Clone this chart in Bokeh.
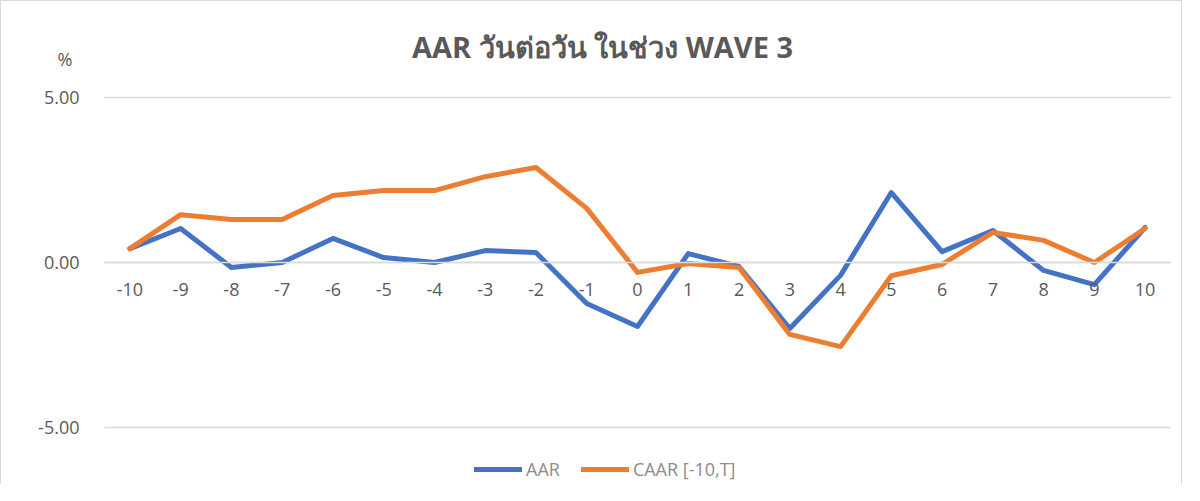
from bokeh.plotting import figure
from bokeh.models import (Range1d, LinearAxis, FixedTicker, NumeralTickFormatter,
                          PrintfTickFormatter, Legend, Label)
from bokeh.embed import file_html
from bokeh.resources import INLINE

# ---- data ----
days = [-10, -9, -8, -7, -6, -5, -4, -3, -2, -1, 0, 1, 2, 3, 4, 5, 6, 7, 8, 9, 10]
aar = [0.42, 1.03, -0.15, 0.00, 0.73, 0.15, 0.00, 0.36, 0.30, -1.24, -1.94,
       0.27, -0.12, -2.00, -0.39, 2.12, 0.33, 0.97, -0.24, -0.67, 1.06]
caar = [0.42, 1.45, 1.30, 1.30, 2.03, 2.18, 2.18, 2.60, 2.88, 1.64, -0.30,
        -0.03, -0.15, -2.18, -2.55, -0.40, -0.06, 0.91, 0.67, 0.00, 1.03]
y_ticks = [-5, 0, 5]
title_text = "AAR วันต่อวัน ในช่วง WAVE 3"
series_names = ["AAR", "CAAR [-10,T]"]
unit_label = "%"

FONT = "Open Sans"
GRAY = "#595959"
GRID = "#d9d9d9"

# ---- layout (pixels) ----
W, H = 1182, 484
PLOT_L, PLOT_R = 103, 1169      # plot area left/right
PLOT_T, PLOT_B = 96, 426        # plot area top/bottom (y = 5 / y = -5)
x_lo, x_hi = days[0] - 0.5, days[-1] + 0.5
y_lo, y_hi = min(y_ticks), max(y_ticks)
ppx = (PLOT_R - PLOT_L) / (x_hi - x_lo)
ppy = (PLOT_B - PLOT_T) / (y_hi - y_lo)

p = figure(width=W, height=H,
           x_range=Range1d(x_lo - PLOT_L / ppx, x_hi + (W - PLOT_R) / ppx),
           y_range=Range1d(y_lo - (H - PLOT_B) / ppy, y_hi + PLOT_T / ppy),
           min_border=0, min_border_left=0, min_border_right=0,
           min_border_top=0, min_border_bottom=0,
           x_axis_location=None, y_axis_location=None,
           output_backend="svg", toolbar_location=None)
p.styles = {"border-top": "1px solid #d9d9d9",
            "border-left": "1px solid #d9d9d9",
            "border-right": "1px solid #d9d9d9"}
p.outline_line_color = None
p.background_fill_color = "white"
p.border_fill_color = "white"
p.xgrid.visible = False
p.ygrid.visible = False

# horizontal gridlines limited to the plot area
p.segment(x0=x_lo, x1=x_hi, y0=y_ticks, y1=y_ticks, line_color=GRID, line_width=1.5)

# y axis (labels only)
yax = LinearAxis(fixed_location=x_lo, ticker=FixedTicker(ticks=y_ticks),
                 formatter=NumeralTickFormatter(format="0.00"))
yax.axis_line_color = None
yax.major_tick_line_color = None
yax.minor_tick_line_color = None
yax.major_label_standoff = 19
yax.major_label_text_font = FONT
yax.major_label_text_font_size = "18px"
yax.major_label_text_color = GRAY
p.add_layout(yax, "left")

# x axis crossing at zero
xax = LinearAxis(fixed_location=0, bounds=(x_lo, x_hi), ticker=FixedTicker(ticks=days),
                 formatter=PrintfTickFormatter(format="%d"))
xax.axis_line_color = GRID
xax.axis_line_width = 1.5
xax.major_tick_line_color = None
xax.minor_tick_line_color = None
xax.major_label_standoff = 14
xax.major_label_text_font = FONT
xax.major_label_text_font_size = "18px"
xax.major_label_text_color = GRAY
p.add_layout(xax, "below")

r1 = p.line(days, aar, line_color="#4472C4", line_width=5, line_join="round", line_cap="round")
r2 = p.line(days, caar, line_color="#ED7D31", line_width=5, line_join="round", line_cap="round")

legend = Legend(items=[(series_names[0], [r1]), (series_names[1], [r2])],
                orientation="horizontal", location=(473, 4),
                glyph_width=48, glyph_height=20, label_height=20,
                label_standoff=4, spacing=21, padding=0, margin=0,
                border_line_color=None, background_fill_alpha=0,
                label_text_font=FONT, label_text_font_size="18px",
                label_text_color="#8c8c8c")
p.add_layout(legend, "center")

title = Label(x=601, y=H - 44.5, x_units="screen", y_units="screen", text=title_text,
              text_align="center", text_baseline="middle",
              text_font=FONT, text_font_size="29px", text_font_style="bold",
              text_color=GRAY)
p.add_layout(title)

unit = Label(x=63.5, y=H - 57.5, x_units="screen", y_units="screen", text=unit_label,
             text_align="center", text_baseline="middle",
             text_font=FONT, text_font_size="18px", text_color=GRAY)
p.add_layout(unit)

open("out.html", "w").write(file_html(p, INLINE))
